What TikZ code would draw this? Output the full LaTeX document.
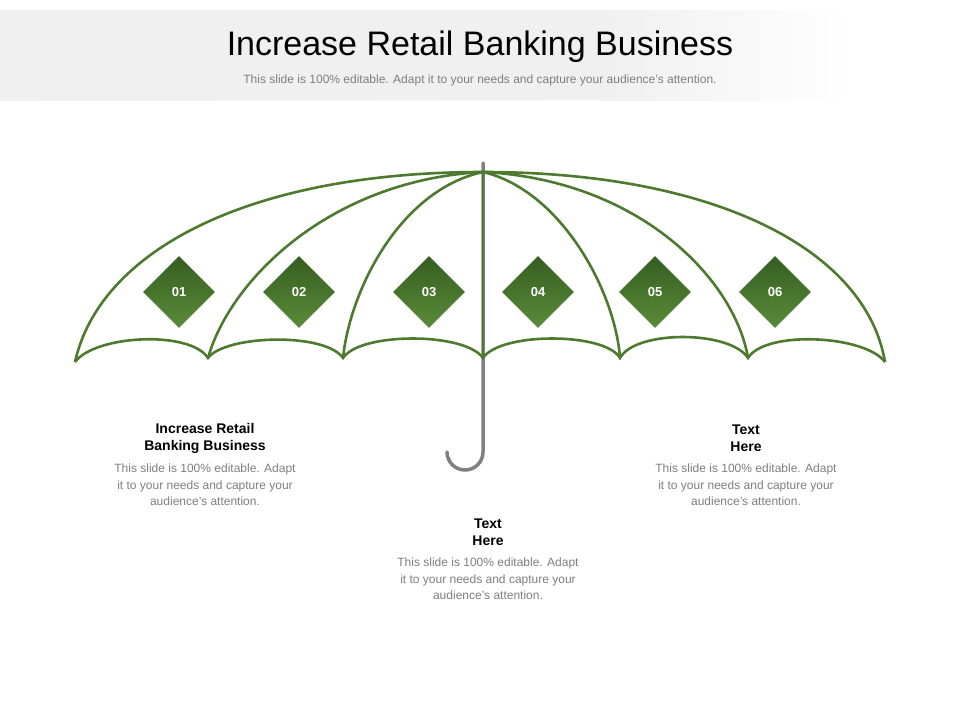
\documentclass[tikz,border=0pt]{standalone}
\usepackage{fontspec}
\setmainfont{Liberation Sans}
\definecolor{ug}{HTML}{4E7A2F}
\definecolor{dg1}{HTML}{355E22}
\definecolor{dg2}{HTML}{5A8B38}
\definecolor{txtg}{HTML}{7F7F7F}
\begin{document}
\begin{tikzpicture}[x=1pt,y=-1pt,
  rib/.style={draw=ug,line width=2.6pt},
  dia/.style={diamond,minimum width=72pt,minimum height=72pt,inner sep=0pt,top color=dg1,bottom color=dg2,draw=none,text=white,font=\bfseries\fontsize{13}{13}\selectfont},
  hd/.style={align=center,font=\bfseries\fontsize{14}{17}\selectfont},
  bd/.style={align=center,text=txtg,font=\fontsize{12}{16.5}\selectfont}]
\usetikzlibrary{shapes.geometric}
\useasboundingbox[fill=white] (0,0) rectangle (960,720);
\shade[left color=black!6,right color=white] (0,10) rectangle (850,100);
\fill[black!6] (0,10) rectangle (600,100);
\shade[left color=black!6,right color=white] (600,10) rectangle (850,100);
\node (title) at (480,47) {\fontsize{34}{34}\selectfont Increase Retail Banking Business};
\node[text=txtg] (sub) at (480,80) {\fontsize{12}{12}\selectfont This slide is 100\% editable. Adapt it to your needs and capture your audience's attention.};
% handle
\draw[draw=black!50,line width=3.5pt,line cap=round] (483,163) -- (483,452) arc[start angle=0,end angle=180,radius=18] -- (447,452);
% canopy
\coordinate (T) at (483,172);
\draw[rib] (75,362) .. controls (100,250) and (250,172) .. (T) .. controls (716,172) and (866,250) .. (885,362);
\draw[rib] (T) .. controls (330,180) and (230,280) .. (208,358);
\draw[rib] (T) .. controls (400,190) and (350,290) .. (343,358);
\draw[rib] (T) -- (483,358);
\draw[rib] (T) .. controls (560,190) and (615,290) .. (620,358);
\draw[rib] (T) .. controls (640,180) and (735,280) .. (748,358);
\draw[rib] (75,362) .. controls (95,335) and (190,330) .. (208,358)
  .. controls (225,335) and (325,332) .. (343,358)
  .. controls (360,332) and (465,332) .. (483,358)
  .. controls (500,332) and (605,332) .. (620,358)
  .. controls (635,330) and (730,330) .. (748,358)
  .. controls (765,330) and (865,335) .. (885,362);
\node[dia] (d1) at (179,292) {01};
\node[dia] (d2) at (299,292) {02};
\node[dia] (d3) at (429,292) {03};
\node[dia] (d4) at (538,292) {04};
\node[dia] (d5) at (655,292) {05};
\node[dia] (d6) at (775,292) {06};
\node[hd] (h1) at (205,438) {Increase Retail\\Banking Business};
\node[bd] (b1) at (205,485) {This slide is 100\% editable. Adapt\\it to your needs and capture your\\audience's attention.};
\node[hd] (h2) at (488,532) {Text\\Here};
\node[bd] (b2) at (488,579) {This slide is 100\% editable. Adapt\\it to your needs and capture your\\audience's attention.};
\node[hd] (h3) at (746,438) {Text\\Here};
\node[bd] (b3) at (746,485) {This slide is 100\% editable. Adapt\\it to your needs and capture your\\audience's attention.};
\end{tikzpicture}
\end{document}
